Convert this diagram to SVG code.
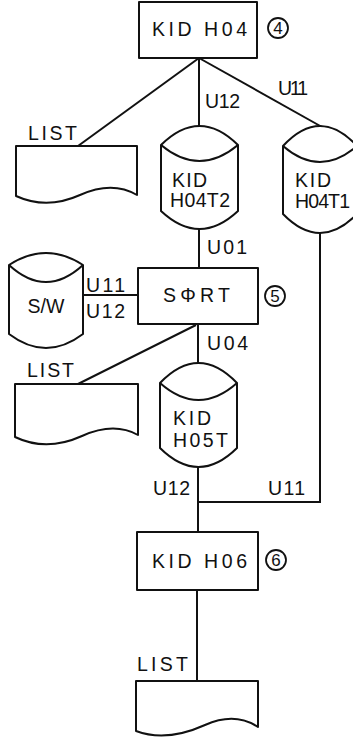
<svg xmlns="http://www.w3.org/2000/svg" width="353" height="737" viewBox="0 0 353 737">
<style>
.s{fill:#fff;stroke:#111;stroke-width:2;stroke-linejoin:round}
.l{fill:none;stroke:#111;stroke-width:2}
.t{font-family:"Liberation Sans",Arial,sans-serif;font-size:19.5px;fill:#111}
.c{fill:none;stroke:#111;stroke-width:1.8}
.n{font-family:"Liberation Sans",Arial,sans-serif;font-size:17px;fill:#111;text-anchor:middle}
</style>
<rect width="353" height="737" fill="#fff"/>
<g id="connectors">
<line class="l" x1="199" y1="58" x2="78" y2="146"/>
<line class="l" x1="199" y1="58" x2="199" y2="126"/>
<line class="l" x1="199" y1="58" x2="322" y2="127"/>
<line class="l" x1="199" y1="229" x2="199" y2="268"/>
<line class="l" x1="83" y1="295" x2="138" y2="295"/>
<line class="l" x1="198" y1="324" x2="198" y2="363"/>
<line class="l" x1="196" y1="325" x2="78" y2="384"/>
<polyline class="l" points="320,233 320,502 198,502"/>
<line class="l" x1="198" y1="467" x2="198" y2="532"/>
<line class="l" x1="197" y1="590" x2="197" y2="681"/>
<text class="t" x="205" y="108" textLength="35">U12</text>
<text class="t" x="278" y="95" textLength="30">U11</text>
<text class="t" x="28" y="140" textLength="49">LIST</text>
<text class="t" x="207" y="254" textLength="40">U01</text>
<text class="t" x="86" y="292" textLength="39">U11</text>
<text class="t" x="86" y="318" textLength="39">U12</text>
<text class="t" x="207" y="350" textLength="41">U04</text>
<text class="t" x="27" y="377" textLength="47">LIST</text>
<text class="t" x="153" y="495" textLength="37">U12</text>
<text class="t" x="268" y="495" textLength="37">U11</text>
<text class="t" x="137" y="671" textLength="51">LIST</text>
</g>
<g id="kid-h04">
<rect class="s" x="139" y="2" width="118" height="56"/>
<text class="t" x="152" y="36" textLength="95">KID H04</text>
<circle class="c" cx="278" cy="28" r="10"/>
<text class="n" x="278" y="34">4</text>
</g>
<g id="list-1">
<path class="s" d="M16,146 H137 V195 C120,185 100,186 80,195 C60,204 38,206 16,196 Z"/>
</g>
<g id="kid-h04t2">
<path class="s" d="M161,145 Q199.5,107 238,145 V211 Q199.5,247 161,211 Z"/>
<path class="l" d="M161,145 Q199.5,177 238,145"/>
<text class="t" x="172" y="187" textLength="35">KID</text>
<text class="t" x="170" y="207" textLength="60">H04T2</text>
</g>
<g id="kid-h04t1">
<path class="s" d="M283,146 Q320,106 357,146 V214 Q320,252 283,214 Z"/>
<path class="l" d="M283,146 Q320,178 357,146"/>
<text class="t" x="295" y="187" textLength="36">KID</text>
<text class="t" x="295" y="208" textLength="55">H04T1</text>
</g>
<g id="sw">
<path class="s" d="M9,265 Q46,241 83,265 V334 Q46,362 9,334 Z"/>
<path class="l" d="M9,265 Q46,299 83,265"/>
<text class="t" x="46" y="313" text-anchor="middle">S/W</text>
</g>
<g id="sort">
<rect class="s" x="138" y="268" width="120" height="56"/>
<text class="t" x="163" y="302" textLength="67">SΦRT</text>
<circle class="c" cx="275" cy="296" r="10"/>
<text class="n" x="275" y="302">5</text>
</g>
<g id="list-2">
<path class="s" d="M15,384 H138 V435 C120,425 102,427 82,436 C62,445 38,448 15,437 Z"/>
</g>
<g id="kid-h05t">
<path class="s" d="M160,383 Q198.5,343 237,383 V448 Q198.5,486 160,448 Z"/>
<path class="l" d="M160,383 Q198.5,417 237,383"/>
<text class="t" x="173" y="425" textLength="38">KID</text>
<text class="t" x="173" y="447" textLength="55">H05T</text>
</g>
<g id="kid-h06">
<rect class="s" x="137" y="532" width="121" height="58"/>
<text class="t" x="152" y="568" textLength="95">KID H06</text>
<circle class="c" cx="276" cy="560" r="10"/>
<text class="n" x="276" y="566">6</text>
</g>
<g id="list-3">
<path class="s" d="M136,681 H258 V727 C243,717 225,716 205,725 C185,734 160,740 136,731 Z"/>
</g>
</svg>
